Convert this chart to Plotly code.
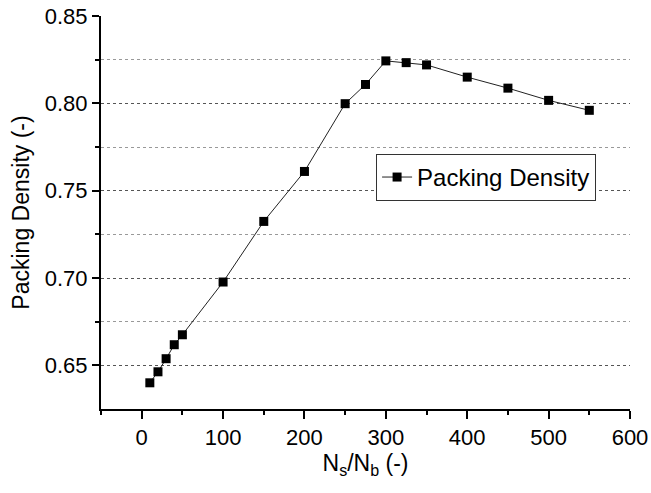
import plotly.graph_objects as go

ratio = [10, 20, 30, 40, 50, 100, 150, 200, 250, 275, 300, 325, 350, 400, 450, 500, 550]
density = [0.640, 0.6463, 0.6538, 0.6618, 0.6675, 0.6977, 0.7324, 0.761, 0.7998, 0.8108,
           0.8243, 0.8233, 0.822, 0.815, 0.8087, 0.8017, 0.796]

FONT = "Liberation Sans, Arial, sans-serif"

fig = go.Figure()
fig.add_trace(go.Scatter(
    x=ratio, y=density, mode="lines+markers", name="Packing Density",
    line=dict(color="#222222", width=1),
    marker=dict(symbol="square", size=9, color="black"),
))

fig.update_layout(
    width=651, height=493,
    margin=dict(l=101, r=21, t=16, b=84),
    paper_bgcolor="white", plot_bgcolor="white",
    font=dict(family=FONT, size=22, color="black"),
    showlegend=True,
    legend=dict(x=0.52, y=0.649, xanchor="left", yanchor="top",
                bordercolor="#333333", borderwidth=1, bgcolor="white",
                font=dict(size=24, family=FONT)),
    xaxis=dict(
        range=[-50, 600], tickvals=[0, 100, 200, 300, 400, 500, 600],
        showline=True, linecolor="black", linewidth=2,
        ticks="outside", ticklen=8, tickwidth=2, tickcolor="black",
        minor=dict(tickvals=[-50, 50, 150, 250, 350, 450, 550], ticks="outside", ticklen=4,
                   tickwidth=2, tickcolor="black", showgrid=False),
        showgrid=False, zeroline=False, mirror=False, automargin=False,
        ticklabeloverflow="allow",
        title=dict(text="N<sub>s</sub>/N<sub>b</sub> (-)", font=dict(size=23, family=FONT), standoff=5),
        tickfont=dict(size=22, family=FONT),
    ),
    yaxis=dict(
        range=[0.625, 0.85], tickvals=[0.65, 0.70, 0.75, 0.80, 0.85],
        ticktext=["0.65", "0.70", "0.75", "0.80", "0.85"],
        showline=True, linecolor="black", linewidth=2,
        ticks="outside", ticklen=7, tickwidth=2, tickcolor="black",
        showgrid=True, gridcolor="#555555", griddash="dot", gridwidth=1,
        minor=dict(tickvals=[0.675, 0.725, 0.775, 0.825], ticks="outside", ticklen=4,
                   tickwidth=2, tickcolor="black", showgrid=True,
                   gridcolor="#999999", griddash="dot", gridwidth=1),
        zeroline=False, mirror=False, automargin=False,
        ticklabeloverflow="allow",
        title=dict(text="Packing Density (-)", font=dict(size=23, family=FONT), standoff=9),
        tickfont=dict(size=22, family=FONT),
    ),
)

fig.write_html("out.html", config={"displayModeBar": False},
               post_script="document.body.style.margin='0';")
